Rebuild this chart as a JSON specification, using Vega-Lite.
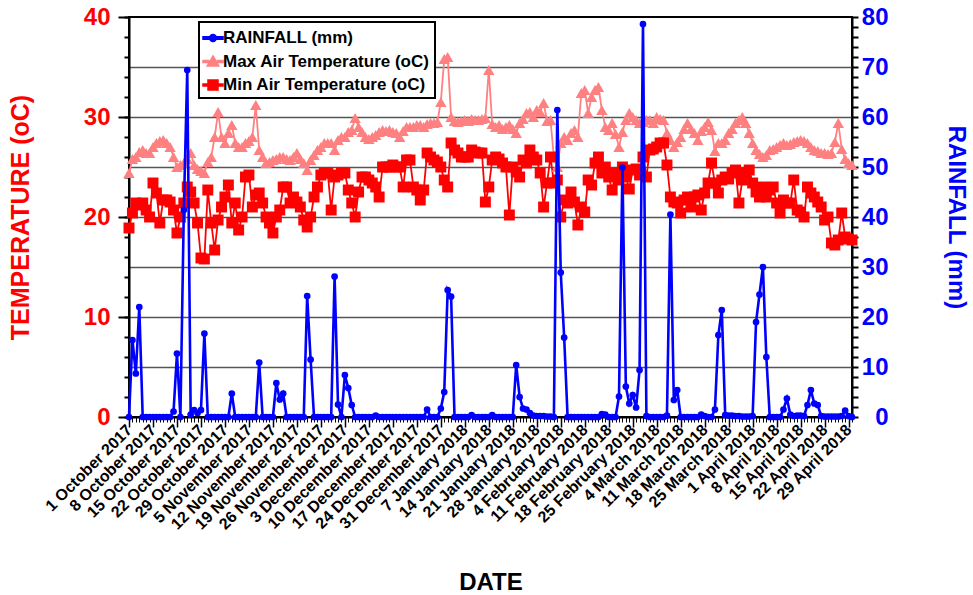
{
"$schema":"https://vega.github.io/schema/vega-lite/v6.json",
"width":723,"height":400,
"autosize":{"type":"none"},
"padding":{"left":129,"top":17,"right":121,"bottom":178},
"background":"white",
"config":{"font":"Liberation Sans","view":{"stroke":"black","strokeWidth":2}},
"data":{"values":[
{"date":"2017-10-01","rain":0,"tmax":24.4,"tmin":18.9},
{"date":"2017-10-02","rain":15.4,"tmax":25.8,"tmin":20.4},
{"date":"2017-10-03","rain":8.7,"tmax":26,"tmin":21.4},
{"date":"2017-10-04","rain":22,"tmax":26.5,"tmin":21.2},
{"date":"2017-10-05","rain":0,"tmax":26.7,"tmin":21.4},
{"date":"2017-10-06","rain":0,"tmax":26.4,"tmin":20.7},
{"date":"2017-10-07","rain":0,"tmax":26.4,"tmin":20},
{"date":"2017-10-08","rain":0,"tmax":27,"tmin":23.4},
{"date":"2017-10-09","rain":0,"tmax":27.4,"tmin":22.4},
{"date":"2017-10-10","rain":0,"tmax":27.6,"tmin":19.4},
{"date":"2017-10-11","rain":0,"tmax":27.7,"tmin":21.7},
{"date":"2017-10-12","rain":0,"tmax":27.4,"tmin":21.7},
{"date":"2017-10-13","rain":0,"tmax":27,"tmin":21.5},
{"date":"2017-10-14","rain":1.1,"tmax":26,"tmin":20.7},
{"date":"2017-10-15","rain":12.7,"tmax":25,"tmin":18.4},
{"date":"2017-10-16","rain":0,"tmax":25.2,"tmin":20},
{"date":"2017-10-17","rain":41.4,"tmax":25.4,"tmin":21.4},
{"date":"2017-10-18","rain":69.4,"tmax":25.8,"tmin":23},
{"date":"2017-10-19","rain":0.5,"tmax":26.4,"tmin":22.5},
{"date":"2017-10-20","rain":1.4,"tmax":25.2,"tmin":21.4},
{"date":"2017-10-21","rain":0.8,"tmax":24.8,"tmin":19.4},
{"date":"2017-10-22","rain":1.4,"tmax":24.6,"tmin":15.9},
{"date":"2017-10-23","rain":16.7,"tmax":24.4,"tmin":15.8},
{"date":"2017-10-24","rain":0,"tmax":25.5,"tmin":22.7},
{"date":"2017-10-25","rain":0,"tmax":26,"tmin":19.4},
{"date":"2017-10-26","rain":0,"tmax":28,"tmin":16.7},
{"date":"2017-10-27","rain":0,"tmax":30.5,"tmin":19.7},
{"date":"2017-10-28","rain":0,"tmax":28,"tmin":21},
{"date":"2017-10-29","rain":0,"tmax":27.4,"tmin":22},
{"date":"2017-10-30","rain":0,"tmax":28.4,"tmin":23.2},
{"date":"2017-10-31","rain":4.7,"tmax":29.2,"tmin":19.4},
{"date":"2017-11-01","rain":0,"tmax":27.4,"tmin":21.4},
{"date":"2017-11-02","rain":0,"tmax":27,"tmin":18.7},
{"date":"2017-11-03","rain":0,"tmax":27,"tmin":20},
{"date":"2017-11-04","rain":0,"tmax":27.4,"tmin":24},
{"date":"2017-11-05","rain":0,"tmax":27.6,"tmin":24.2},
{"date":"2017-11-06","rain":0,"tmax":28,"tmin":21},
{"date":"2017-11-07","rain":0,"tmax":31.2,"tmin":22.2},
{"date":"2017-11-08","rain":10.9,"tmax":26.7,"tmin":22.4},
{"date":"2017-11-09","rain":0,"tmax":26,"tmin":21.4},
{"date":"2017-11-10","rain":0,"tmax":25.4,"tmin":20},
{"date":"2017-11-11","rain":0,"tmax":25.5,"tmin":19.4},
{"date":"2017-11-12","rain":0,"tmax":25.7,"tmin":18.4},
{"date":"2017-11-13","rain":6.8,"tmax":25.8,"tmin":20},
{"date":"2017-11-14","rain":3.5,"tmax":26,"tmin":20.7},
{"date":"2017-11-15","rain":4.7,"tmax":26,"tmin":23},
{"date":"2017-11-16","rain":0,"tmax":25.8,"tmin":23},
{"date":"2017-11-17","rain":0,"tmax":25.7,"tmin":21.4},
{"date":"2017-11-18","rain":0,"tmax":26,"tmin":22},
{"date":"2017-11-19","rain":0,"tmax":26.4,"tmin":21.5},
{"date":"2017-11-20","rain":0,"tmax":25.8,"tmin":21},
{"date":"2017-11-21","rain":0,"tmax":25.4,"tmin":19.7},
{"date":"2017-11-22","rain":24.2,"tmax":24.7,"tmin":19},
{"date":"2017-11-23","rain":11.5,"tmax":25.7,"tmin":20},
{"date":"2017-11-24","rain":0,"tmax":26.2,"tmin":22},
{"date":"2017-11-25","rain":0,"tmax":26.7,"tmin":23},
{"date":"2017-11-26","rain":0,"tmax":27,"tmin":24.2},
{"date":"2017-11-27","rain":0,"tmax":27.4,"tmin":24.4},
{"date":"2017-11-28","rain":0,"tmax":27.4,"tmin":24.4},
{"date":"2017-11-29","rain":0,"tmax":27.4,"tmin":20.7},
{"date":"2017-11-30","rain":28.1,"tmax":26.7,"tmin":24},
{"date":"2017-12-01","rain":2.5,"tmax":27.7,"tmin":24.2},
{"date":"2017-12-02","rain":0,"tmax":28,"tmin":24.4},
{"date":"2017-12-03","rain":8.4,"tmax":28,"tmin":24.4},
{"date":"2017-12-04","rain":5.8,"tmax":28.5,"tmin":22.7},
{"date":"2017-12-05","rain":2.4,"tmax":28.7,"tmin":21.4},
{"date":"2017-12-06","rain":0,"tmax":29.9,"tmin":20},
{"date":"2017-12-07","rain":0,"tmax":29,"tmin":22.5},
{"date":"2017-12-08","rain":0,"tmax":28.5,"tmin":24},
{"date":"2017-12-09","rain":0,"tmax":28,"tmin":24},
{"date":"2017-12-10","rain":0,"tmax":27.8,"tmin":23.7},
{"date":"2017-12-11","rain":0,"tmax":28,"tmin":23.4},
{"date":"2017-12-12","rain":0.3,"tmax":28.2,"tmin":23},
{"date":"2017-12-13","rain":0,"tmax":28.5,"tmin":22},
{"date":"2017-12-14","rain":0,"tmax":28.7,"tmin":25},
{"date":"2017-12-15","rain":0,"tmax":28.6,"tmin":25},
{"date":"2017-12-16","rain":0,"tmax":28.7,"tmin":25},
{"date":"2017-12-17","rain":0,"tmax":28.5,"tmin":25.2},
{"date":"2017-12-18","rain":0,"tmax":28.4,"tmin":25},
{"date":"2017-12-19","rain":0,"tmax":28,"tmin":25},
{"date":"2017-12-20","rain":0,"tmax":28.6,"tmin":23},
{"date":"2017-12-21","rain":0,"tmax":29,"tmin":25.7},
{"date":"2017-12-22","rain":0,"tmax":29,"tmin":25.7},
{"date":"2017-12-23","rain":0,"tmax":29,"tmin":23},
{"date":"2017-12-24","rain":0,"tmax":29.2,"tmin":22.7},
{"date":"2017-12-25","rain":0,"tmax":29.2,"tmin":21.7},
{"date":"2017-12-26","rain":0,"tmax":29,"tmin":22.7},
{"date":"2017-12-27","rain":1.5,"tmax":29.3,"tmin":26.4},
{"date":"2017-12-28","rain":0,"tmax":29.4,"tmin":26},
{"date":"2017-12-29","rain":0,"tmax":29.4,"tmin":25.7},
{"date":"2017-12-30","rain":0,"tmax":29.5,"tmin":25.5},
{"date":"2017-12-31","rain":1.7,"tmax":31.5,"tmin":25},
{"date":"2018-01-01","rain":5,"tmax":35.8,"tmin":23.7},
{"date":"2018-01-02","rain":25.4,"tmax":36,"tmin":23},
{"date":"2018-01-03","rain":24.1,"tmax":30,"tmin":27.4},
{"date":"2018-01-04","rain":0,"tmax":29.6,"tmin":26.7},
{"date":"2018-01-05","rain":0,"tmax":29.5,"tmin":26.4},
{"date":"2018-01-06","rain":0,"tmax":29.6,"tmin":26},
{"date":"2018-01-07","rain":0,"tmax":29.7,"tmin":26},
{"date":"2018-01-08","rain":0,"tmax":29.6,"tmin":26},
{"date":"2018-01-09","rain":0.4,"tmax":29.8,"tmin":26.7},
{"date":"2018-01-10","rain":0,"tmax":29.7,"tmin":26.5},
{"date":"2018-01-11","rain":0,"tmax":29.7,"tmin":26.4},
{"date":"2018-01-12","rain":0,"tmax":29.8,"tmin":26.4},
{"date":"2018-01-13","rain":0,"tmax":29.9,"tmin":21.5},
{"date":"2018-01-14","rain":0,"tmax":34.7,"tmin":23},
{"date":"2018-01-15","rain":0.4,"tmax":29.3,"tmin":25.7},
{"date":"2018-01-16","rain":0,"tmax":29,"tmin":26},
{"date":"2018-01-17","rain":0,"tmax":29.2,"tmin":25.8},
{"date":"2018-01-18","rain":0,"tmax":28.8,"tmin":25.4},
{"date":"2018-01-19","rain":0,"tmax":29,"tmin":25},
{"date":"2018-01-20","rain":0,"tmax":29.2,"tmin":20.2},
{"date":"2018-01-21","rain":0,"tmax":28.8,"tmin":25},
{"date":"2018-01-22","rain":10.4,"tmax":28.4,"tmin":24.5},
{"date":"2018-01-23","rain":4,"tmax":29.4,"tmin":24},
{"date":"2018-01-24","rain":1.7,"tmax":29.8,"tmin":25.7},
{"date":"2018-01-25","rain":1.5,"tmax":30.4,"tmin":25.4},
{"date":"2018-01-26","rain":0.8,"tmax":30.5,"tmin":26.7},
{"date":"2018-01-27","rain":0.3,"tmax":30,"tmin":26},
{"date":"2018-01-28","rain":0.2,"tmax":30.7,"tmin":25.7},
{"date":"2018-01-29","rain":0.2,"tmax":30.5,"tmin":24.4},
{"date":"2018-01-30","rain":0.2,"tmax":31.4,"tmin":21},
{"date":"2018-01-31","rain":0.1,"tmax":29.6,"tmin":23.4},
{"date":"2018-02-01","rain":0.1,"tmax":29.7,"tmin":26},
{"date":"2018-02-02","rain":0,"tmax":26,"tmin":23.4},
{"date":"2018-02-03","rain":61.4,"tmax":25,"tmin":23.7},
{"date":"2018-02-04","rain":28.9,"tmax":27.4,"tmin":20},
{"date":"2018-02-05","rain":15.9,"tmax":28,"tmin":21.7},
{"date":"2018-02-06","rain":0,"tmax":27.7,"tmin":21.4},
{"date":"2018-02-07","rain":0,"tmax":28.4,"tmin":22.5},
{"date":"2018-02-08","rain":0,"tmax":28.7,"tmin":21.5},
{"date":"2018-02-09","rain":0,"tmax":28,"tmin":19.2},
{"date":"2018-02-10","rain":0,"tmax":32.4,"tmin":21},
{"date":"2018-02-11","rain":0,"tmax":32.7,"tmin":20.5},
{"date":"2018-02-12","rain":0,"tmax":30.4,"tmin":23.7},
{"date":"2018-02-13","rain":0,"tmax":32,"tmin":23.2},
{"date":"2018-02-14","rain":0,"tmax":32.7,"tmin":25.4},
{"date":"2018-02-15","rain":0,"tmax":33,"tmin":26},
{"date":"2018-02-16","rain":0.6,"tmax":30.7,"tmin":24.4},
{"date":"2018-02-17","rain":0.5,"tmax":29,"tmin":25},
{"date":"2018-02-18","rain":0,"tmax":28.7,"tmin":24},
{"date":"2018-02-19","rain":0,"tmax":29.4,"tmin":22.7},
{"date":"2018-02-20","rain":0,"tmax":28.3,"tmin":24.4},
{"date":"2018-02-21","rain":4.1,"tmax":27,"tmin":23.7},
{"date":"2018-02-22","rain":49.9,"tmax":28.5,"tmin":25},
{"date":"2018-02-23","rain":6.1,"tmax":29.7,"tmin":24},
{"date":"2018-02-24","rain":2.7,"tmax":30.4,"tmin":22.8},
{"date":"2018-02-25","rain":4.4,"tmax":30,"tmin":24.7},
{"date":"2018-02-26","rain":1.9,"tmax":29.7,"tmin":24.8},
{"date":"2018-02-27","rain":9.4,"tmax":29.4,"tmin":24.2},
{"date":"2018-02-28","rain":78.6,"tmax":29.5,"tmin":26},
{"date":"2018-03-01","rain":0.2,"tmax":29.7,"tmin":24},
{"date":"2018-03-02","rain":0,"tmax":29.7,"tmin":26.7},
{"date":"2018-03-03","rain":0,"tmax":29.4,"tmin":26.8},
{"date":"2018-03-04","rain":0,"tmax":30,"tmin":27},
{"date":"2018-03-05","rain":0,"tmax":29.8,"tmin":27.4},
{"date":"2018-03-06","rain":0,"tmax":29.7,"tmin":27.4},
{"date":"2018-03-07","rain":0.3,"tmax":28.4,"tmin":25.2},
{"date":"2018-03-08","rain":40.5,"tmax":27.7,"tmin":22},
{"date":"2018-03-09","rain":3.4,"tmax":27,"tmin":21.5},
{"date":"2018-03-10","rain":5.4,"tmax":27.5,"tmin":21.4},
{"date":"2018-03-11","rain":0,"tmax":28,"tmin":20.4},
{"date":"2018-03-12","rain":0,"tmax":28.8,"tmin":21.7},
{"date":"2018-03-13","rain":0,"tmax":29.4,"tmin":22},
{"date":"2018-03-14","rain":0,"tmax":28.8,"tmin":21},
{"date":"2018-03-15","rain":0,"tmax":28.4,"tmin":22},
{"date":"2018-03-16","rain":0,"tmax":27.7,"tmin":22.2},
{"date":"2018-03-17","rain":0.5,"tmax":28.6,"tmin":20.7},
{"date":"2018-03-18","rain":0.2,"tmax":29,"tmin":22.4},
{"date":"2018-03-19","rain":0,"tmax":29.5,"tmin":23.4},
{"date":"2018-03-20","rain":0,"tmax":28.7,"tmin":25.4},
{"date":"2018-03-21","rain":1.5,"tmax":26.6,"tmin":23.4},
{"date":"2018-03-22","rain":16.4,"tmax":27.4,"tmin":22.4},
{"date":"2018-03-23","rain":21.4,"tmax":27.4,"tmin":23.7},
{"date":"2018-03-24","rain":0.4,"tmax":27.7,"tmin":24},
{"date":"2018-03-25","rain":0.3,"tmax":28.4,"tmin":23.8},
{"date":"2018-03-26","rain":0.3,"tmax":28.8,"tmin":24.4},
{"date":"2018-03-27","rain":0.2,"tmax":29.4,"tmin":24.7},
{"date":"2018-03-28","rain":0.2,"tmax":29.7,"tmin":21.4},
{"date":"2018-03-29","rain":0.1,"tmax":30,"tmin":23.7},
{"date":"2018-03-30","rain":0.1,"tmax":29.4,"tmin":24.4},
{"date":"2018-03-31","rain":0.1,"tmax":28.4,"tmin":24.7},
{"date":"2018-04-01","rain":0.2,"tmax":27.4,"tmin":23.4},
{"date":"2018-04-02","rain":19,"tmax":26.7,"tmin":22.5},
{"date":"2018-04-03","rain":24.5,"tmax":26.3,"tmin":22},
{"date":"2018-04-04","rain":30,"tmax":26,"tmin":23},
{"date":"2018-04-05","rain":12,"tmax":26.2,"tmin":22},
{"date":"2018-04-06","rain":0,"tmax":26.7,"tmin":22.7},
{"date":"2018-04-07","rain":0,"tmax":26.8,"tmin":23},
{"date":"2018-04-08","rain":0,"tmax":27,"tmin":21.4},
{"date":"2018-04-09","rain":0,"tmax":27.2,"tmin":20.4},
{"date":"2018-04-10","rain":1.5,"tmax":27.4,"tmin":21.7},
{"date":"2018-04-11","rain":3.7,"tmax":27.2,"tmin":21.4},
{"date":"2018-04-12","rain":0.5,"tmax":27.3,"tmin":21.4},
{"date":"2018-04-13","rain":0.2,"tmax":27.5,"tmin":23.7},
{"date":"2018-04-14","rain":0.3,"tmax":27.6,"tmin":20.7},
{"date":"2018-04-15","rain":0.3,"tmax":27.7,"tmin":20.5},
{"date":"2018-04-16","rain":0.2,"tmax":27.6,"tmin":20},
{"date":"2018-04-17","rain":2.4,"tmax":27.4,"tmin":23},
{"date":"2018-04-18","rain":5.4,"tmax":27,"tmin":22.4},
{"date":"2018-04-19","rain":2.7,"tmax":26.7,"tmin":22},
{"date":"2018-04-20","rain":2.4,"tmax":26.6,"tmin":21.5},
{"date":"2018-04-21","rain":0.2,"tmax":26.4,"tmin":21},
{"date":"2018-04-22","rain":0.1,"tmax":26.4,"tmin":19.7},
{"date":"2018-04-23","rain":0.1,"tmax":26.3,"tmin":20},
{"date":"2018-04-24","rain":0.1,"tmax":26.4,"tmin":17.4},
{"date":"2018-04-25","rain":0.1,"tmax":27.5,"tmin":17.2},
{"date":"2018-04-26","rain":0.1,"tmax":29.4,"tmin":17.7},
{"date":"2018-04-27","rain":0.2,"tmax":26.8,"tmin":20.4},
{"date":"2018-04-28","rain":1.3,"tmax":25.8,"tmin":18},
{"date":"2018-04-29","rain":0.2,"tmax":25.4,"tmin":17.8},
{"date":"2018-04-30","rain":0,"tmax":25.2,"tmin":17.7}
]},
"transform":[{"fold":["rain","tmax","tmin"],"as":["key","val"]}],
"encoding":{
  "x":{"field":"date","type":"temporal",
    "scale":{"type":"utc","domain":[{"year":2017,"month":10,"date":1,"utc":true},{"year":2018,"month":4,"date":30,"utc":true}]},
    "axis":{"orient":"bottom","title":"DATE","tickCount":{"interval":"week","step":1},
      "labelExpr":"utcFormat(datum.value, '%-d %B %Y')",
      "labelAngle":-45,"labelAlign":"right","labelBaseline":"middle","labelFontSize":16,"labelFontWeight":"bold","labelColor":"black",
      "labelOverlap":false,"labelFlush":false,"labelBound":false,"labelPadding":0,
      "tickSize":10,"tickColor":"black","tickWidth":1.5,"domainColor":"black","domainWidth":2,"grid":false,
      "titleFontSize":24,"titleFontWeight":"bold","titleColor":"black","titleY":153}},
  "color":{"field":"key","type":"nominal",
    "scale":{"domain":["rain","tmax","tmin"],"range":["#0000ff","#ff8080","#ff0000"]},
    "legend":{"orient":"none","legendX":70,"legendY":5,"title":null,"direction":"vertical","padding":5,
      "strokeColor":"black","fillColor":"white","labelFontSize":17,"labelFontWeight":"bold","labelColor":"black",
      "labelLimit":400,"symbolSize":400,"symbolOffset":-2,"labelOffset":-1,"rowPadding":4.5,
      "labelExpr":"datum.value === 'rain' ? 'RAINFALL (mm)' : datum.value === 'tmax' ? 'Max Air Temperature (oC)' : 'Min Air Temperature (oC)'",
      "encode":{
        "legend":{"update":{"stroke":{"value":"black"},"strokeWidth":{"value":2}}},
        "symbols":{"update":{
          "shape":{"signal":"datum.value === 'rain' ? 'M-1,-0.12H-0.3V0.12H-1Z M0.3,-0.12H1V0.12H0.3Z M-0.34,0A0.34,0.34,0,1,0,0.34,0A0.34,0.34,0,1,0,-0.34,0Z' : datum.value === 'tmax' ? 'M-1,-0.1H-0.45V0.1H-1Z M0.45,-0.1H1V0.1H0.45Z M0,-0.55L0.58,0.45L-0.58,0.45Z' : 'M-1,-0.1H-0.45V0.1H-1Z M0.45,-0.1H1V0.1H0.45Z M-0.5,-0.5H0.5V0.5H-0.5Z'"},
          "stroke":{"value":"transparent"},
          "opacity":{"value":1}
        }}}}}
},
"layer":[
  {"transform":[{"filter":"datum.key !== 'rain'"}],
   "layer":[
     {"mark":{"type":"line","strokeWidth":1.8},
      "encoding":{"y":{"field":"val","type":"quantitative","scale":{"domain":[0,40],"nice":false,"zero":false},"axis":null}}},
     {"transform":[{"filter":"datum.key === 'tmax'"}],
      "mark":{"type":"point","shape":"triangle-up","filled":true,"opacity":1,"size":130},
      "encoding":{
        "y":{"field":"val","type":"quantitative","scale":{"domain":[0,40],"nice":false,"zero":false},
          "axis":{"orient":"left","title":"TEMPERATURE (oC)","values":[0,10,20,30,40],
            "labelColor":"#ff0000","labelFontSize":24,"labelFontWeight":"bold","labelPadding":8,
            "tickSize":11,"tickColor":"black","tickWidth":2,"domainColor":"black","domainWidth":2,"grid":false,
            "titleColor":"#ff0000","titleFontSize":25,"titleFontWeight":"bold","titleX":-96,"titleY":200}}}},
     {"transform":[{"filter":"datum.key === 'tmin'"}],
      "mark":{"type":"point","shape":"square","filled":true,"opacity":1,"size":120},
      "encoding":{
        "y":{"field":"val","type":"quantitative","scale":{"domain":[0,40],"nice":false,"zero":false},"axis":null}}},
     {"mark":{"type":"point","opacity":0},
      "encoding":{
        "y":{"field":"val","type":"quantitative","scale":{"domain":[0,40],"nice":false,"zero":false},
          "axis":{"orient":"left","title":null,"values":[0,2,4,6,8,10,12,14,16,18,20,22,24,26,28,30,32,34,36,38,40],
            "labels":false,"domain":false,"grid":false,"tickSize":5,"tickColor":"black","tickWidth":2}},
        "color":{"value":"transparent"}}}
   ],
   "resolve":{"axis":{"y":"independent"}}},
  {"transform":[{"filter":"datum.key === 'rain'"}],
   "encoding":{
     "x":{"field":"date","type":"temporal","axis":null},
     "y":{"field":"val","type":"quantitative","scale":{"domain":[0,80],"nice":false,"zero":false},
     "axis":{"orient":"right","title":"RAINFALL (mm)","values":[0,2,4,6,8,10,12,14,16,18,20,22,24,26,28,30,32,34,36,38,40,42,44,46,48,50,52,54,56,58,60,62,64,66,68,70,72,74,76,78,80],
       "labelExpr":"datum.value % 10 === 0 ? datum.label : ''","labelColor":"#0000ff","labelFontSize":24,"labelFontWeight":"bold","labelAlign":"right","labelPadding":30,
       "tickSize":6,"tickColor":"black","tickWidth":2,"domainColor":"black","domainWidth":2,
       "grid":true,"gridColor":"#555555","gridWidth":1.5,
       "gridOpacity":{"condition":{"test":"datum.value % 10 === 0 && datum.value > 0 && datum.value < 80","value":1},"value":0},
       "titleColor":"#0000ff","titleFontSize":24,"titleFontWeight":"bold","titleX":91,"titleY":200}}},
   "layer":[
     {"mark":{"type":"line","strokeWidth":2.6}},
     {"mark":{"type":"point","shape":"circle","filled":true,"opacity":1,"size":45}}
   ]},
  {"transform":[{"filter":"datum.key === 'rain'"}],
   "mark":{"type":"point","opacity":0},
   "encoding":{
     "x":{"field":"date","type":"temporal",
       "axis":{"orient":"bottom","title":null,"tickCount":{"interval":"day","step":1},"labels":false,"domain":false,"grid":false,
         "tickSize":5,"tickColor":"black","tickWidth":1}},
     "color":{"value":"transparent"}}}
],
"resolve":{"scale":{"y":"independent"},"axis":{"x":"independent"}}
}
